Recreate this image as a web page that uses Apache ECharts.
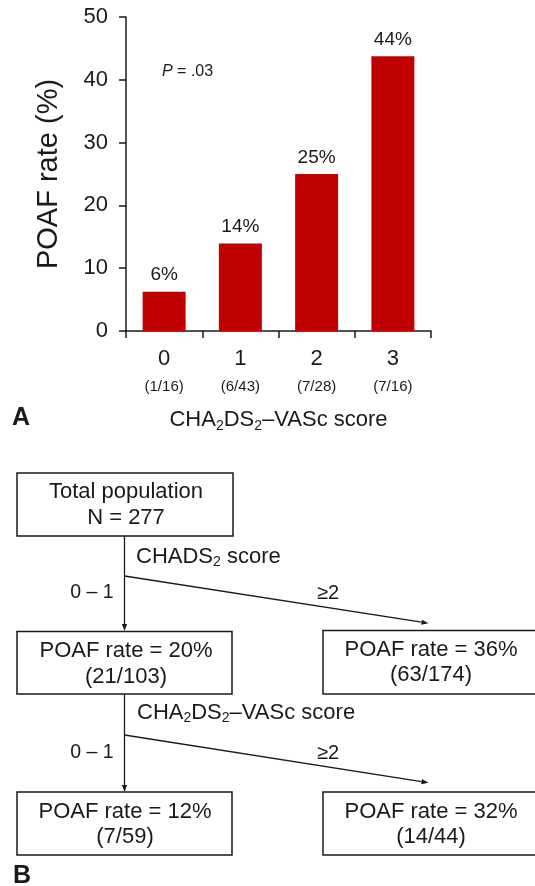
<!DOCTYPE html>
<html><head><meta charset="utf-8">
<script src="https://cdn.jsdelivr.net/npm/echarts@6/dist/echarts.min.js"></script>
<style>html,body{margin:0;padding:0;background:#fff}#c{width:535px;height:886px}</style>
</head><body><div id="c"></div>
<script>
// ---- Panel A data ----
const scores = ['0', '1', '2', '3'];
const counts = ['(1/16)', '(6/43)', '(7/28)', '(7/16)'];
const rates = [6.25, 13.95, 25.0, 43.75];
const rateLabels = ['6%', '14%', '25%', '44%'];
const yMin = 0, yMax = 50, yStep = 10;
const pValueText = ' = .03';
// ---- Panel B data ----
const flowTitles = ['Total population', 'POAF rate = 20%', 'POAF rate = 36%', 'POAF rate = 12%', 'POAF rate = 32%'];
const flowCounts = ['N = 277', '(21/103)', '(63/174)', '(7/59)', '(14/44)'];
const branchLow = '0 \u2013 1';
const branchHigh = '\u22652';

const FONT = 'Liberation Sans, Arial, Helvetica, sans-serif';
const INK = '#1a1a1a';
const chart = echarts.init(document.getElementById('c'));

const subRich = {
  m: { fontSize: 22, fontFamily: FONT, color: INK, lineHeight: 30 },
  s: { fontSize: 14, fontFamily: FONT, color: INK, lineHeight: 30, verticalAlign: 'bottom', padding: [0, 0, 2, 0] }
};

function box(x, y, w, h) {
  return { type: 'rect', shape: { x: x, y: y, width: w, height: h }, style: { fill: '#fff', stroke: INK, lineWidth: 1.5 } };
}
function txt(x, y, text, size, weight) {
  return { type: 'text', x: x, y: y, style: { text: text, fontSize: size, fontFamily: FONT, fontWeight: weight || 'normal', fill: INK, align: 'center', verticalAlign: 'middle' } };
}
function arrow(x1, y1, x2, y2) {
  const dx = x2 - x1, dy = y2 - y1, L = Math.sqrt(dx * dx + dy * dy);
  const ux = dx / L, uy = dy / L, px = -uy, py = ux, len = 7, hw = 2.6;
  const bx = x2 - ux * len, by = y2 - uy * len;
  return [
    { type: 'line', shape: { x1: x1, y1: y1, x2: bx, y2: by }, style: { stroke: INK, lineWidth: 1.3 } },
    { type: 'polygon', shape: { points: [[x2, y2], [bx + px * hw, by + py * hw], [bx - px * hw, by - py * hw]] }, style: { fill: INK } }
  ];
}
function subText(x, y, parts, size, subSize) {
  return {
    type: 'text', x: x, y: y,
    style: {
      text: parts, fontSize: size, fontFamily: FONT, fill: INK, align: 'left', verticalAlign: 'middle',
      rich: {
        m: { fontSize: size, fontFamily: FONT, color: INK, lineHeight: 28 },
        s: { fontSize: subSize, fontFamily: FONT, color: INK, lineHeight: 28, verticalAlign: 'bottom', padding: [0, 0, 2, 0] }
      }
    }
  };
}

// flowchart layout
const BX = [17, 17, 323, 17, 323];
const BY = [473, 631.5, 630.5, 792, 792];
const BW = [216, 215, 220, 215, 220];
const BH = [63, 62.5, 63.5, 63, 63];
const TX = [126, 126, 431, 125, 431];
const T1 = [492, 650.5, 649.5, 811.5, 811.5];
const T2 = [518, 677, 675, 837, 837];
const VX = 124.5;

const g = [];
g.push(txt(21, 418, 'A', 25, 'bold'));
g.push({ type: 'text', x: 162, y: 72, style: { text: '{i|P}{n|' + pValueText + '}', fontFamily: FONT, fontSize: 16, fill: INK, align: 'left', verticalAlign: 'middle',
  rich: { i: { fontStyle: 'italic', fontSize: 16, fontFamily: FONT, color: INK }, n: { fontSize: 16, fontFamily: FONT, color: INK } } } });
for (let i = 0; i < 5; i++) {
  g.push(box(BX[i], BY[i], BW[i], BH[i]));
  g.push(txt(TX[i], T1[i], flowTitles[i], 22));
  g.push(txt(TX[i], T2[i], flowCounts[i], 22));
}
g.push(...arrow(VX, 536, VX, 631));
g.push(...arrow(VX, 576, 428.5, 623.3));
g.push(...arrow(VX, 694, VX, 792));
g.push(...arrow(VX, 735, 428.5, 782.7));
g.push(subText(136, 557, '{m|CHADS}{s|2}{m| score}', 22, 14));
g.push(subText(137, 713, '{m|CHA}{s|2}{m|DS}{s|2}{m|\u2013VASc score}', 22, 14));
g.push(txt(92, 593, branchLow, 19.5));
g.push(txt(328, 593, branchHigh, 20));
g.push(txt(92, 753, branchLow, 19.5));
g.push(txt(328, 753, branchHigh, 20));
g.push(txt(22, 876, 'B', 25, 'bold'));

chart.setOption({
  animation: false,
  backgroundColor: '#fff',
  grid: { left: 126, right: 104, top: 17, bottom: 555, containLabel: false },
  xAxis: {
    type: 'category', data: scores,
    axisLine: { lineStyle: { color: INK, width: 1.5 } },
    axisTick: { show: true, length: 7, lineStyle: { color: INK, width: 1.5 } },
    axisLabel: {
      margin: 14, interval: 0,
      formatter: function (v, i) { return '{a|' + v + '}\n{b|' + counts[i] + '}'; },
      rich: {
        a: { fontSize: 22, fontFamily: FONT, color: INK, lineHeight: 28 },
        b: { fontSize: 15, fontFamily: FONT, color: INK, lineHeight: 28 }
      }
    },
    name: '{m|CHA}{s|2}{m|DS}{s|2}{m|\u2013VASc score}',
    nameLocation: 'middle', nameGap: 74,
    nameTextStyle: { fontFamily: FONT, fontSize: 22, color: INK, rich: subRich }
  },
  yAxis: {
    type: 'value', min: yMin, max: yMax, interval: yStep,
    axisLine: { show: true, lineStyle: { color: INK, width: 1.5 } },
    axisTick: { show: true, length: 7, lineStyle: { color: INK, width: 1.5 } },
    splitLine: { show: false },
    axisLabel: { fontSize: 22, fontFamily: FONT, color: INK, margin: 18 },
    name: 'POAF rate (%)', nameLocation: 'middle', nameGap: 63, nameRotate: 90,
    nameTextStyle: { fontFamily: FONT, fontSize: 29, color: INK }
  },
  series: [{
    type: 'bar', data: rates, barWidth: 43,
    itemStyle: { color: '#c00000' },
    label: {
      show: true, position: 'top', distance: 7,
      formatter: function (p) { return rateLabels[p.dataIndex]; },
      fontSize: 19, fontFamily: FONT, color: INK
    }
  }],
  graphic: g
});
</script>
</body></html>
